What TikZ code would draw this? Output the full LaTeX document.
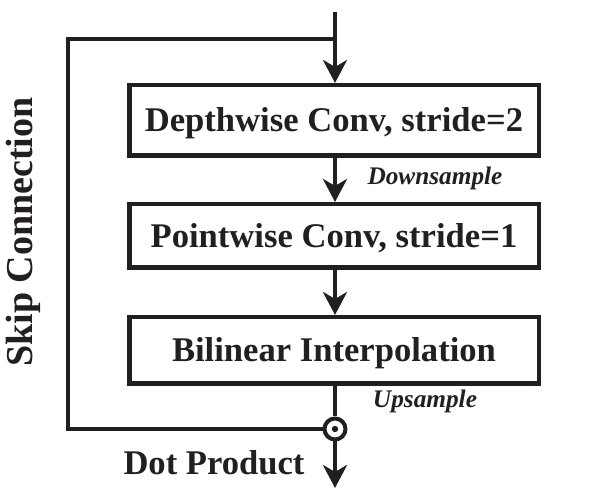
\documentclass[tikz,border=0pt]{standalone}
\usepackage{fontspec}
\setmainfont{Liberation Serif}
\usetikzlibrary{arrows.meta}
\definecolor{ink}{HTML}{231F20}
\tikzset{
  blk/.style={draw=ink, line width=4.5pt, minimum width=409.5pt, inner sep=0pt,
    font=\fontsize{34.6}{34.6}\selectfont\bfseries, text=ink, text height=22.8pt, text depth=0pt},
  wire/.style={draw=ink, line width=4.5pt},
  arr/.style={wire, -{Stealth[length=23pt, width=24pt, inset=7pt]}},
  lbl/.style={font=\fontsize{25.3}{25.3}\selectfont\bfseries\itshape, text=ink, anchor=base, inner sep=0pt},
  big/.style={font=\fontsize{34.6}{34.6}\selectfont\bfseries, text=ink, anchor=base, inner sep=0pt},
  odot/.style={circle, draw=ink, line width=4pt, minimum size=21pt, inner sep=0pt, fill=white}
}
\begin{document}
\begin{tikzpicture}[x=1pt, y=-1pt]
\useasboundingbox (0,0) rectangle (590,494);
\node[blk, minimum height=70.5pt] (b1) at (334,120.5) {Depthwise Conv, stride=2};
\node[blk, minimum height=63.5pt] (b2) at (334,236) {Pointwise Conv, stride=1};
\node[blk, minimum height=66.5pt] (b3) at (334,350.5) {Bilinear Interpolation};
\node[odot] (dp) at (335,429) {};
\fill[ink] (dp.center) circle (3.2pt);
\coordinate (top) at (335,12);
\coordinate (split) at (335,39);
\coordinate (c1) at (68,39);
\coordinate (c2) at (68,429);
\coordinate (out) at (335,488);
\draw[arr] (top) -- (top |- b1.north);
\draw[wire, line join=miter] (split) -- (c1) -- (c2) -- (dp.west);
\draw[arr] (b1.south -| top) -- (b2.north -| top);
\draw[arr] (b2.south -| top) -- (b3.north -| top);
\draw[wire] (b3.south -| top) -- (dp.north);
\draw[arr] (dp.south) -- (out);
\node[lbl] (ds) at (435,185) {Downsample};
\node[lbl] (us) at (425,408) {Upsample};
\node[big] (dot) at (214,475) {Dot Product};
\node[big, font=\fontsize{38}{38}\selectfont\bfseries, rotate=90] (skip) at (32,232) {Skip Connection};
\end{tikzpicture}
\end{document}
